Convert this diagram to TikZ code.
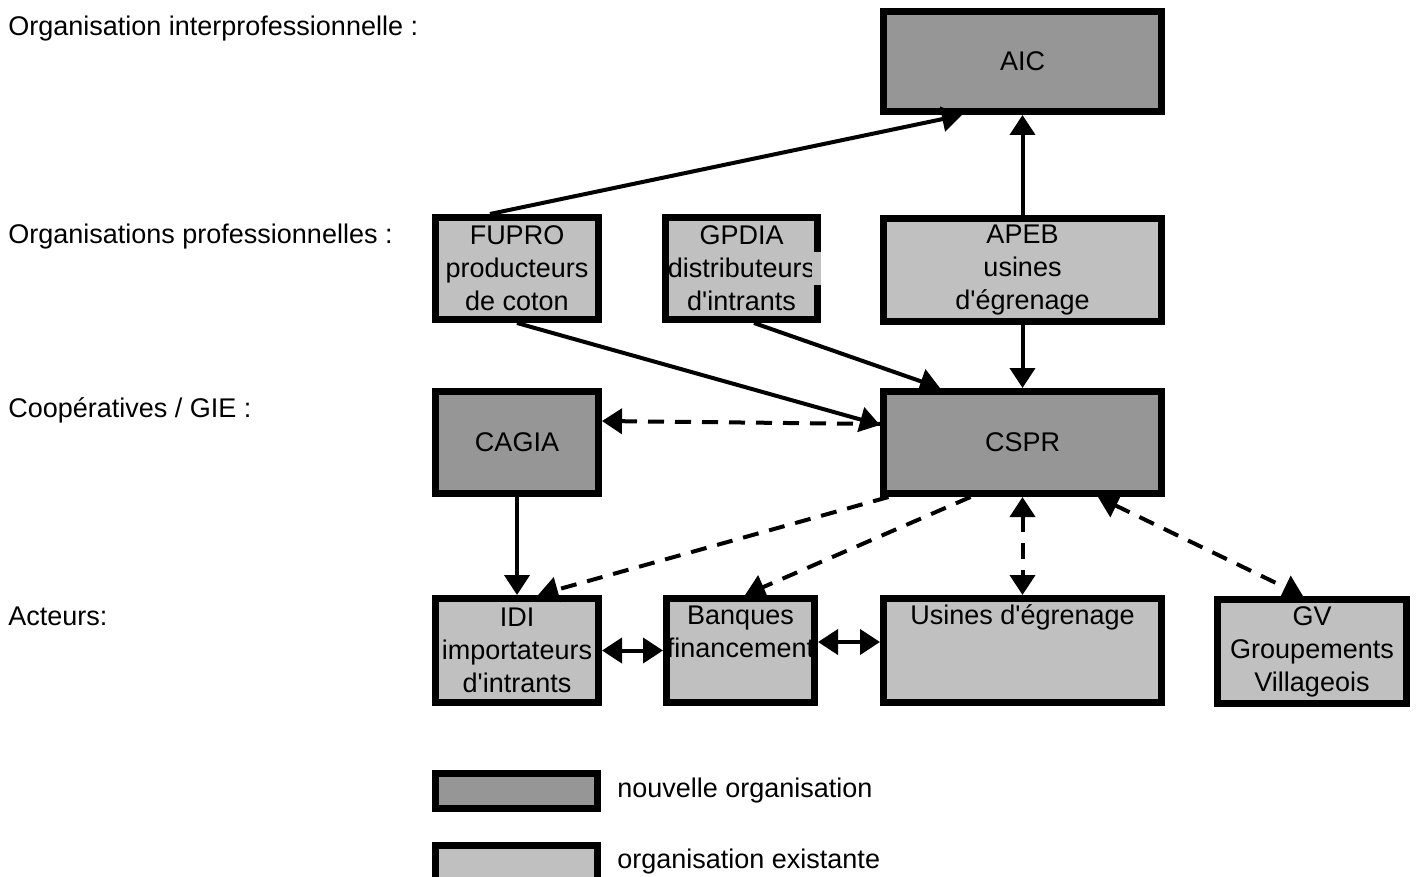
\documentclass[tikz,border=0pt]{standalone}
\usepackage{fontspec}
\setmainfont{Liberation Sans}
\usepackage{xcolor}
\usetikzlibrary{arrows.meta}

\definecolor{nouveau}{RGB}{150,150,150}
\definecolor{existant}{RGB}{192,192,192}

\newcommand{\apos}{\textquotesingle}

\tikzset{
	newbox/.style={draw, line width=3.5pt, fill=nouveau, inner sep=1pt, align=center},
	oldbox/.style={newbox, fill=existant},
	txt/.style={inner sep=0pt, align=center},
	fleche/.style={line width=2pt, ->},
	tiret/.style={line width=2pt, dash pattern=on 8pt off 5.5pt}
}

\begin{document}
\begin{tikzpicture}[x=0.5pt, y=-0.5pt, >={Triangle[length=10pt,width=12.5pt]},
		every node/.style={font=\fontsize{13.5}{16.5}\selectfont}]
			\useasboundingbox (0,0) rectangle (1418,877);
			\clip (0,0) rectangle (1418,877);
			\node[txt, anchor=base west] (niv1) at (8,36) {Organisation interprofessionnelle :};
			\node[txt, anchor=base west] (niv2) at (8,243) {Organisations professionnelles :};
			\node[txt, anchor=base west] (niv3) at (8,417) {Coopératives / GIE :};
			\node[txt, anchor=base west] (niv4) at (8,625) {Acteurs:};
			\node[newbox, minimum width=139pt, minimum height=50pt] (aic) at (1022.5,61.5) {AIC};
			\node[oldbox, minimum width=81.5pt, minimum height=51pt] (fupro) at (517,268.5) {FUPRO\\producteurs\\de coton};
			\node[oldbox, minimum width=75pt, minimum height=51pt] (gpdia) at (741.5,268.5) {GPDIA\\distributeurs\\d\apos intrants};
			\fill[existant] (812,252) rectangle (821,285);
			\node[oldbox, minimum width=139pt, minimum height=51pt] (apeb) at (1022.5,270) {APEB\\usines\\d\apos égrenage};
			\node[newbox, minimum width=81.5pt, minimum height=51pt] (cagia) at (517,442.5) {CAGIA};
			\node[newbox, minimum width=139pt, minimum height=51pt] (cspr) at (1022.5,442.5) {CSPR};
			\node[oldbox, minimum width=81.5pt, minimum height=52pt] (idi) at (517,650.5) {IDI\\importateurs\\d\apos intrants};
			\node[oldbox, minimum width=74pt, minimum height=52pt] (banques) at (740.5,650.5) {};
			\node[txt, anchor=north] (banquest) at ([yshift=-5.5pt]banques.north) {Banques\\financement};
			\node[oldbox, minimum width=139pt, minimum height=52pt] (usines) at (1022.5,650.5) {};
			\node[txt, anchor=base] (usinest) at ([yshift=-14.5pt]usines.north) {Usines d\apos égrenage};
			\node[oldbox, minimum width=94.5pt, minimum height=52pt] (gv) at (1312,651.5) {GV\\Groupements\\Villageois};
			\draw[fleche] ([xshift=-13.5pt]fupro.north) -- ([xshift=-30.25pt]aic.south);
			\draw[fleche] (apeb.north) -- (aic.south);
			\draw[fleche] (fupro.south) -- ([yshift=8.75pt]cspr.west);
			\draw[fleche] ([xshift=6.25pt]gpdia.south) -- ([xshift=-41.25pt]cspr.north);
			\draw[fleche] (apeb.south) -- (cspr.north);
			\draw[tiret, <-] ([yshift=10.75pt]cagia.east) -- ([yshift=9.25pt]cspr.west);
			\draw[fleche] (cagia.south) -- (idi.north);
			\draw[tiret, ->] ([xshift=-67pt]cspr.south) -- ([xshift=10.5pt]idi.north);
			\draw[tiret, ->] ([xshift=-26pt]cspr.south) -- ([xshift=2.25pt]banques.north);
			\draw[tiret, <->] (cspr.south) -- (usines.north);
			\draw[tiret, <->] ([xshift=37.75pt]cspr.south) -- ([xshift=-4.5pt]gv.north);
			\draw[fleche, <->] (idi.east) -- (banques.west);
			\draw[fleche, <->] ([yshift=4.25pt]banques.east) -- ([yshift=4.25pt]usines.west);
			\node[newbox, minimum width=81pt, minimum height=17.5pt] (legnew) at (516.5,791) {};
			\node[txt, anchor=base west] (legnewt) at (617,797) {nouvelle organisation};
			\node[oldbox, minimum width=81pt, minimum height=17.5pt] (legold) at (516.5,863) {};
			\node[txt, anchor=base west] (legoldt) at (617,868) {organisation existante};
		\end{tikzpicture}
\end{document}
